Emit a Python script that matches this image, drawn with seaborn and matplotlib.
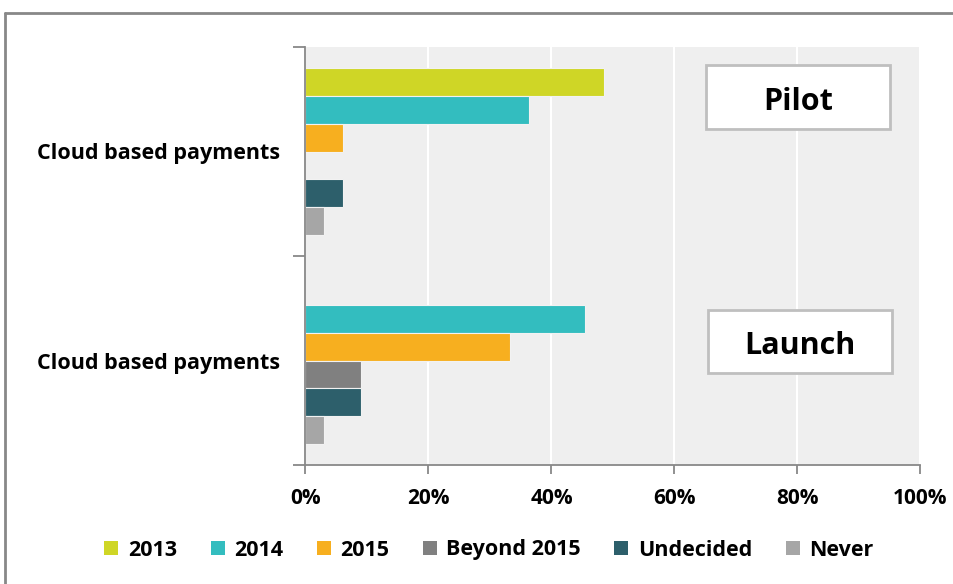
import matplotlib
matplotlib.use("Agg")
import matplotlib.pyplot as plt
import seaborn as sns
import pandas as pd
from matplotlib.lines import Line2D
from matplotlib.patches import Patch, Rectangle

stages = ["Pilot", "Launch"]
stage_labels = ["Cloud based payments", "Cloud based payments"]
series = ["2013", "2014", "2015", "Beyond 2015", "Undecided", "Never"]
pilot_vals = [48.5, 36.4, 6.1, 0.0, 6.1, 3.0]
launch_vals = [0.0, 45.5, 33.3, 9.1, 9.1, 3.0]
colors = ["#CFD626", "#33BDBF", "#F7AF1F", "#808080", "#2D5F6B", "#A6A6A6"]
xticks = [0, 20, 40, 60, 80, 100]
xtick_labels = ["0%", "20%", "40%", "60%", "80%", "100%"]

rows = []
for st, vals in zip(stages, [pilot_vals, launch_vals]):
    for s, v in zip(series, vals):
        rows.append({"stage": st, "series": s, "value": v})
df = pd.DataFrame(rows)

sns.set_theme(style="white")
plt.rcParams['font.family'] = ['Open Sans', 'DejaVu Sans']
plt.rcParams['text.color'] = 'black'
plt.rcParams['xtick.color'] = 'black'
plt.rcParams['ytick.color'] = 'black'

fig = plt.figure(figsize=(9.54, 5.84), dpi=100)
ax = fig.add_axes([305.5/954, 1-465/584, (920.5-305.5)/954, (465-47)/584])
ax.set_facecolor("#EFEFEF")

sns.barplot(data=df, y="stage", x="value", hue="series", order=stages,
            hue_order=series, palette=colors, orient="h", ax=ax, saturation=1,
            width=0.8, legend=False, linewidth=0.8, edgecolor="#f2f2f2")

ax.set_xlim(0, 100)
ax.set_ylim(1.5, -0.5)
ax.set_xticks(xticks)
ax.set_xticklabels(xtick_labels, fontsize=15, fontweight="bold", color="black")
ax.set_yticks([0, 1])
ax.set_yticklabels(stage_labels, fontsize=15.5, fontweight="bold", color="black")
ax.set_yticks([-0.5, 0.5, 1.5], minor=True)
ax.tick_params(axis="y", which="major", length=0, pad=18)
ax.tick_params(axis="y", which="minor", length=9, width=1.3, color="#888888", direction="out", left=True)
ax.tick_params(axis="x", which="major", length=6.5, width=1.3, color="#888888", direction="out", bottom=True, pad=10)
ax.set_xlabel("")
ax.set_ylabel("")
ax.grid(axis="x", color="white", linewidth=1.5)
ax.set_axisbelow(True)
for side in ["top", "right"]:
    ax.spines[side].set_visible(False)
for side in ["left", "bottom"]:
    ax.spines[side].set_color("#888888")
    ax.spines[side].set_linewidth(1.3)

# stage labels in boxes
for label, x0, y0, x1, y1 in [("Pilot", 706, 65, 890, 129), ("Launch", 708, 310, 892, 373)]:
    fig.patches.append(Rectangle((x0/954, 1-y1/584), (x1-x0)/954, (y1-y0)/584,
                                 transform=fig.transFigure, facecolor="white",
                                 edgecolor="#BFBFBF", linewidth=2, zorder=5))
    fig.text((x0+x1)/2/954, 1-((y0+y1)/2+1)/584, label, ha="center", va="center_baseline",
             fontsize=22, fontweight="bold", zorder=6, color="black")

handles = [Patch(facecolor=c, edgecolor="none", label=s) for s, c in zip(series, colors)]
leg = fig.legend(handles=handles, loc="center", bbox_to_anchor=(489/954, 1-550/584), ncol=6,
                 frameon=False, prop={"size": 15.5, "weight": "bold"}, handlelength=0.65,
                 handleheight=0.65, handletextpad=0.45, columnspacing=1.55)
for t in leg.get_texts():
    t.set_color("black")

# outer frame
fig.add_artist(Line2D([5.5/954, 1.0], [1-12.5/584]*2, color="#888888", linewidth=2, transform=fig.transFigure))
fig.add_artist(Line2D([5.5/954]*2, [0, 1-12.5/584], color="#888888", linewidth=2, transform=fig.transFigure))

fig.savefig("out.png", dpi=100, facecolor="white")
